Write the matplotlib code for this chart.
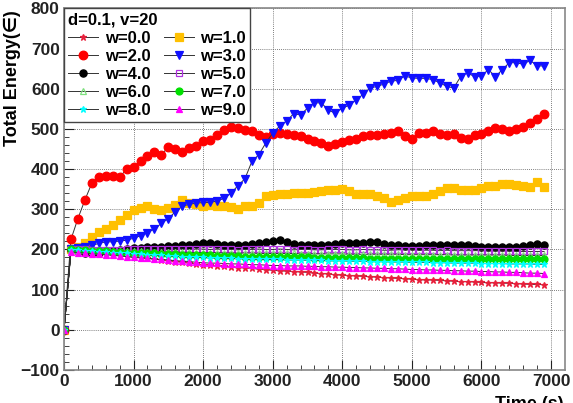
import matplotlib
matplotlib.use("Agg")
import matplotlib.pyplot as plt

# time axis (s), one point every 100 s
time = list(range(0, 7000, 100))

w_labels = ["w=0.0", "w=1.0", "w=2.0", "w=3.0", "w=4.0",
            "w=5.0", "w=6.0", "w=7.0", "w=8.0", "w=9.0"]

e_w0 = [0, 199, 197, 195, 193, 191, 189, 187, 185, 184, 182,
        180, 178, 176, 174, 172, 170, 168, 166, 164, 162,
        161, 159, 158, 157, 155, 154, 153, 151, 150, 148,
        147, 146, 145, 144, 143, 141, 140, 139, 137, 136,
        135, 134, 133, 132, 131, 130, 129, 128, 127, 126,
        125, 124, 124, 123, 122, 121, 120, 120, 119, 118,
        117, 117, 116, 116, 115, 114, 113, 113, 112]

e_w1 = [0, 200, 205, 215, 232, 244, 251, 261, 273, 287, 298,
        304, 307, 301, 298, 303, 311, 323, 315, 313, 308,
        311, 309, 307, 305, 301, 307, 309, 315, 332, 336,
        337, 337, 340, 340, 340, 342, 346, 348, 348, 351,
        346, 337, 337, 337, 332, 327, 317, 323, 329, 334,
        334, 334, 337, 346, 354, 354, 348, 348, 348, 354,
        357, 357, 362, 362, 360, 357, 356, 369, 356]

e_w2 = [0, 225, 277, 323, 365, 380, 383, 383, 380, 400, 405,
        421, 432, 442, 436, 455, 449, 442, 452, 458, 469,
        472, 484, 498, 505, 503, 498, 494, 486, 480, 487,
        489, 487, 486, 482, 474, 470, 464, 457, 463, 468,
        472, 474, 482, 486, 486, 488, 491, 495, 482, 474,
        490, 490, 496, 487, 485, 487, 477, 475, 485, 487,
        494, 502, 500, 496, 500, 505, 515, 525, 537]

e_w3 = [0, 200, 203, 205, 210, 215, 219, 219, 221, 223, 228,
        234, 242, 251, 265, 277, 294, 307, 313, 315, 317,
        317, 321, 327, 340, 359, 376, 419, 436, 465, 490,
        507, 520, 538, 535, 552, 565, 565, 546, 540, 552,
        559, 573, 586, 602, 606, 612, 619, 621, 632, 627,
        626, 626, 623, 615, 606, 602, 630, 640, 630, 632,
        648, 630, 648, 665, 665, 661, 671, 657, 657]

e_w4 = [0, 198, 195, 192, 190, 192, 195, 197, 199, 202, 203,
        204, 206, 207, 207, 208, 209, 211, 212, 214, 215,
        215, 214, 212, 212, 211, 212, 213, 217, 218, 220,
        223, 218, 214, 212, 211, 210, 210, 211, 214, 215,
        215, 215, 216, 218, 219, 214, 211, 210, 209, 209,
        208, 210, 211, 211, 211, 211, 211, 211, 209, 207,
        207, 205, 206, 207, 207, 209, 211, 213, 212]

e_w5 = [0, 201, 200, 200, 199, 199, 198, 199, 199, 200, 200,
        200, 201, 200, 201, 200, 201, 201, 200, 201, 201,
        200, 201, 200, 200, 199, 200, 200, 201, 200, 200,
        201, 200, 199, 200, 200, 199, 199, 200, 200, 200,
        199, 199, 200, 199, 199, 198, 198, 199, 199, 199,
        198, 198, 198, 197, 198, 197, 197, 197, 197, 197,
        196, 196, 196, 196, 195, 195, 195, 195, 195]

e_w6 = [0, 199, 198, 198, 197, 197, 196, 196, 196, 195, 195,
        195, 194, 194, 194, 193, 193, 193, 193, 192, 192,
        192, 192, 191, 191, 191, 191, 191, 190, 190, 190,
        190, 190, 190, 189, 189, 189, 189, 189, 189, 189,
        188, 188, 188, 188, 188, 188, 188, 188, 187, 187,
        187, 187, 187, 187, 187, 186, 186, 186, 186, 186,
        186, 186, 186, 185, 185, 185, 185, 185, 185]

e_w7 = [0, 200, 199, 198, 197, 196, 195, 194, 193, 192, 192,
        191, 190, 190, 189, 188, 188, 187, 186, 186, 185,
        185, 184, 184, 183, 183, 182, 182, 182, 181, 181,
        181, 180, 180, 180, 180, 179, 179, 179, 178, 178,
        178, 178, 178, 177, 177, 177, 177, 177, 177, 177,
        177, 177, 176, 176, 176, 176, 176, 176, 176, 176,
        176, 176, 176, 175, 175, 175, 176, 176, 176]

e_w8 = [0, 199, 198, 197, 196, 194, 193, 192, 191, 190, 189,
        188, 187, 186, 185, 184, 183, 182, 181, 181, 180,
        179, 179, 178, 178, 177, 177, 176, 176, 175, 175,
        175, 174, 174, 174, 173, 173, 173, 172, 172, 172,
        171, 171, 171, 170, 170, 170, 169, 169, 169, 168,
        168, 168, 167, 167, 167, 166, 166, 166, 166, 165,
        165, 165, 165, 164, 164, 164, 164, 163, 163]

e_w9 = [0, 194, 192, 191, 189, 188, 187, 185, 184, 182, 180,
        179, 178, 176, 175, 174, 172, 171, 170, 168, 167,
        166, 166, 165, 164, 164, 163, 162, 162, 161, 160,
        160, 159, 159, 159, 158, 158, 157, 157, 156, 156,
        155, 155, 154, 154, 153, 153, 152, 152, 151, 150,
        150, 149, 149, 148, 148, 147, 147, 146, 146, 145,
        145, 144, 144, 143, 143, 142, 141, 141, 140]

series = [e_w0, e_w1, e_w2, e_w3, e_w4, e_w5, e_w6, e_w7, e_w8, e_w9]

# marker style per series: (marker, face, edge, size)
styles = [
    ("*", "#e8203c", "#e8203c", 4.5),
    ("s", "#ffc000", "#ffc000", 5.5),
    ("o", "#ff0000", "#ff0000", 6.2),
    ("v", "#1010ff", "#1010ff", 5.2),
    ("o", "#000000", "#000000", 5.2),
    ("s", "none", "#b030e0", 5.0),
    ("^", "none", "#7ee07e", 5.0),
    ("o", "#00e000", "#00e000", 5.0),
    ("*", "#00ffff", "#00ffff", 5.0),
    ("^", "#ff00ff", "#ff00ff", 5.0),
]

font = ["Liberation Sans", "DejaVu Sans"]
plt.rcParams["font.family"] = font
plt.rcParams["font.weight"] = "bold"

fig = plt.figure(figsize=(5.73, 4.03), dpi=100)
ax = fig.add_axes([0.1117, 0.082, 0.8743, 0.897])

handles = []
for vals, lab, (mk, fc, ec, ms) in zip(series, w_labels, styles):
    h, = ax.plot(time, vals, color="#333333", lw=0.7, marker=mk,
                 markerfacecolor=fc, markeredgecolor=ec, markersize=ms,
                 markeredgewidth=0.9, label=lab)
    handles.append(h)

ax.set_xlim(0, 7200)
ax.set_ylim(-100, 800)
ax.set_xticks(range(0, 8000, 1000))
ax.set_yticks(range(-100, 900, 100))
ax.set_xticks(range(0, 7200, 200), minor=True)
ax.set_yticks(range(-100, 820, 20), minor=True)
ax.grid(True, which="major", color="#555555", ls=(0, (1, 1.5)), lw=0.6)
ax.tick_params(which="both", direction="in", labelsize=12.5, colors="#222222")
ax.tick_params(which="major", length=7, width=0.8, pad=3)
ax.tick_params(which="minor", length=3.5, width=0.6)
for lb in ax.get_xticklabels() + ax.get_yticklabels():
    lb.set_fontweight("bold")
for s in ax.spines.values():
    s.set_color("#888888")
    s.set_linewidth(1.2)

ax.set_ylabel("Total Energy(\u2208)", fontsize=13, fontweight="bold",
              loc="top")
ax.yaxis.set_label_coords(-0.086, 0.995)
fig.text(0.983, 0.018, "Time (s)", ha="right", va="top",
         fontsize=13, fontweight="bold")

# legend is filled row by row: left column even w, right column odd w
order = [0, 2, 4, 6, 8, 1, 3, 5, 7, 9]
leg = ax.legend([handles[i] for i in order], [w_labels[i] for i in order],
                ncol=2, title="d=0.1, v=20", loc="upper left",
                bbox_to_anchor=(0, 1), borderaxespad=0, fancybox=False,
                edgecolor="#444444", framealpha=1, fontsize=12,
                title_fontproperties={"size": 12, "weight": "bold"},
                handlelength=1.8, handletextpad=0.4, columnspacing=0.8,
                labelspacing=0.18, borderpad=0.25, alignment="left")
leg.get_frame().set_linewidth(1.0)

fig.savefig("out.png", dpi=100)
